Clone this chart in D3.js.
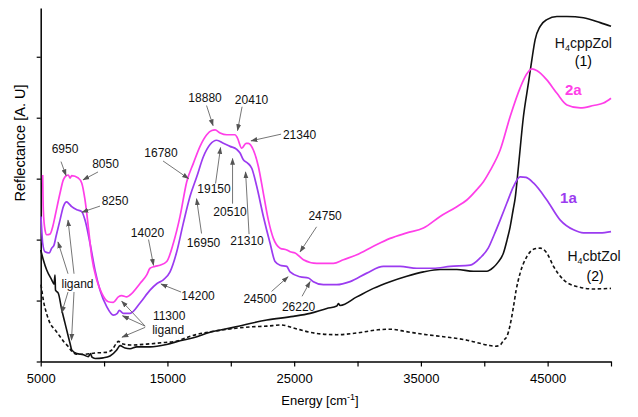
<!DOCTYPE html>
<html><head><meta charset="utf-8">
<script src="https://cdn.jsdelivr.net/npm/d3@7"></script>
<style>
body{margin:0;background:#fff}
svg{display:block}
text{font-family:"Liberation Sans",Arial,Helvetica,sans-serif}
</style>
</head><body>
<svg id="chart" width="638" height="417"></svg>
<script>
// ---------- data (energy cm-1, reflectance A.U.) ----------
const series2a = [[5158,3.06],[5205,2.49],[5339,2.16],[5474,2.08],[5734,2.09],[5947,2.21],[6129,2.38],[6523,2.76],[6784,2.98],[6918,3.03],[7178,3.06],[7313,3.01],[7447,3.05],[7968,3.01],[8236,2.93],[8497,2.65],[8757,2.21],[9025,1.72],[9420,1.34],[9815,1.12],[10336,0.98],[10730,0.97],[11125,1.06],[11393,1.08],[11788,1.06],[12048,1.09],[12838,1.28],[13367,1.42],[13627,1.53],[14020,1.56],[14416,1.58],[14945,1.64],[15466,1.94],[15995,2.38],[16524,2.95],[17044,3.25],[17573,3.53],[18102,3.72],[18497,3.79],[18757,3.80],[19152,3.75],[19681,3.72],[20336,3.72],[20517,3.67],[20865,3.50],[21204,3.58],[21385,3.58],[21780,3.47],[22175,3.20],[22570,2.76],[22965,2.32],[23359,2.02],[23888,1.86],[24417,1.83],[24677,1.80],[25072,1.78],[25727,1.67],[26785,1.61],[28095,1.61],[28884,1.67],[29941,1.75],[31252,1.89],[32570,2.02],[33888,2.11],[35198,2.19],[36516,2.38],[37834,2.54],[38624,2.65],[39413,2.82],[39934,2.95],[40480,3.14],[41254,3.47],[42043,4.02],[42831,4.49],[43359,4.72],[43754,4.80],[44170,4.77],[44938,4.62],[45734,4.40],[46524,4.21],[47573,4.16],[48617,4.20],[49406,4.24],[50000,4.32]];

const series1a = [[5024,2.38],[5158,1.94],[5339,1.80],[5679,1.78],[5868,1.86],[6050,1.91],[6208,2.05],[6523,2.32],[6784,2.54],[7052,2.62],[7178,2.60],[7447,2.54],[7841,2.49],[8236,2.46],[8497,2.32],[8891,1.94],[9286,1.50],[9681,1.17],[10209,0.90],[10730,0.76],[11046,0.79],[11204,0.84],[11520,0.79],[12048,0.79],[12838,0.96],[13627,1.17],[14180,1.28],[14677,1.34],[15206,1.47],[15734,1.80],[16255,2.27],[16784,2.71],[17313,3.03],[17834,3.36],[18363,3.56],[18891,3.63],[19412,3.58],[19941,3.53],[20470,3.48],[20730,3.42],[20991,3.31],[21306,3.26],[21654,3.17],[22049,2.87],[22570,2.38],[23099,1.94],[23493,1.64],[23888,1.58],[24417,1.56],[24677,1.47],[25466,1.39],[26121,1.37],[26516,1.31],[27305,1.26],[28363,1.26],[29413,1.31],[30731,1.45],[32041,1.56],[33359,1.56],[34677,1.53],[35988,1.53],[37305,1.56],[38887,1.58],[39676,1.70],[40310,1.86],[40780,2.08],[41254,2.32],[41783,2.60],[42304,2.87],[42831,3.03],[43300,3.02],[43880,2.93],[44938,2.65],[45995,2.32],[47044,2.16],[47828,2.11],[49145,2.11],[50000,2.13]];

const seriesCpp = [[5000,1.83],[5205,1.67],[5474,1.50],[5868,1.34],[6050,1.27],[6129,1.42],[6168,1.17],[6389,1.12],[6658,0.85],[6918,0.63],[7178,0.41],[7313,0.30],[7447,0.19],[7841,0.13],[8362,0.11],[8757,0.08],[8930,0.13],[9050,0.07],[9286,0.05],[9941,0.06],[10470,0.09],[10999,0.19],[11259,0.26],[11654,0.22],[12048,0.21],[12577,0.24],[13627,0.24],[14945,0.28],[15995,0.34],[17044,0.39],[18363,0.48],[20202,0.56],[22838,0.68],[24937,0.74],[26256,0.79],[27574,0.87],[28363,0.91],[28489,0.95],[28624,0.92],[29941,1.06],[31252,1.20],[32570,1.31],[33888,1.40],[35198,1.47],[36516,1.51],[37834,1.51],[39144,1.48],[40204,1.48],[40700,1.54],[41096,1.63],[41514,1.78],[41806,2.00],[42043,2.21],[42280,2.49],[42439,2.68],[42697,3.20],[43091,4.02],[43486,4.57],[43754,4.95],[44015,5.28],[44410,5.50],[44938,5.61],[45734,5.66],[46524,5.66],[47828,5.64],[49145,5.56],[50000,5.50]];

const seriesCbt = [[5024,1.26],[5205,1.01],[5474,0.78],[5734,0.63],[6129,0.52],[6523,0.41],[6839,0.32],[7155,0.25],[7447,0.17],[7841,0.12],[8497,0.12],[9286,0.14],[10178,0.15],[10628,0.19],[10944,0.29],[11141,0.33],[11338,0.30],[11654,0.28],[12096,0.27],[13627,0.29],[14653,0.31],[15616,0.33],[16895,0.42],[19452,0.52],[21694,0.57],[22838,0.58],[24022,0.60],[24937,0.55],[26785,0.46],[28363,0.44],[30013,0.47],[31615,0.52],[32570,0.53],[33849,0.49],[35451,0.44],[37054,0.40],[38649,0.35],[40251,0.27],[40890,0.25],[41254,0.27],[41530,0.35],[41783,0.41],[42012,0.57],[42304,0.90],[42515,1.17],[42831,1.45],[43359,1.72],[43880,1.84],[44410,1.86],[44938,1.78],[45466,1.56],[46255,1.34],[47313,1.23],[48617,1.19],[50000,1.20]];

const xTicks = [5000,10000,15000,20000,25000,30000,35000,40000,45000,50000];
const xTickLabels = [5000,15000,25000,35000,45000];
const yTicks = [0,1,2,3,4,5];

// annotations: label, text anchor (E, R), arrow(s) [E0,R0,E1,R1]
const peakLabels = [
  {t:"6950",  x:6918,  y:3.42, arrows:[[6602,3.28,6997,3.05]]},
  {t:"8050",  x:10115, y:3.18, arrows:[[9523,3.11,8339,2.98]]},
  {t:"8250",  x:10864, y:2.57, arrows:[[9680,2.55,8260,2.45]]},
  {t:"ligand",x:7905,  y:1.21, arrows:[[7155,1.44,6365,1.96],[7628,1.44,7155,2.32],[7155,1.14,6658,0.80],[7628,1.14,7431,0.35]]},
  {t:"11300", x:15136, y:0.68, arrows:[[13242,0.58,11393,0.99],[13242,0.58,11456,0.75],[13242,0.56,11417,0.40]]},
  {t:"ligand",x:15057, y:0.45, arrows:[]},
  {t:"14020", x:13430, y:2.04, arrows:[[13509,2.00,13903,1.58]]},
  {t:"14200", x:17416, y:1.01, arrows:[[16074,1.14,14495,1.27]]},
  {t:"16780", x:14495, y:3.36, arrows:[[14653,3.29,16666,3.00]]},
  {t:"18880", x:17968, y:4.26, arrows:[[18087,4.20,18600,3.87]]},
  {t:"20410", x:21638, y:4.23, arrows:[[20889,4.18,20533,3.79]]},
  {t:"21340", x:25427, y:3.65, arrows:[[23967,3.73,21599,3.62]]},
  {t:"19150", x:18678, y:2.77, arrows:[[18797,2.92,19192,3.51]]},
  {t:"20510", x:19941, y:2.39, arrows:[[20139,2.59,20139,3.33]]},
  {t:"21310", x:21283, y:1.91, arrows:[[21441,2.09,21165,3.11]]},
  {t:"16950", x:17850, y:1.88, arrows:[[17692,2.10,17297,2.67]]},
  {t:"24750", x:27440, y:2.32, arrows:[[26769,2.21,25466,1.80]]},
  {t:"24500", x:22309, y:0.96, arrows:[[23217,1.15,24519,1.39]]},
  {t:"26220", x:25348, y:0.83, arrows:[[25624,1.07,26256,1.31]]}
];

// ---------- chart ----------
const svg = d3.select("#chart");
const x = d3.scaleLinear().domain([5000,50000]).range([40.7,611]);
const y = d3.scaleLinear().domain([0,5.8]).range([361.5,8]);

const line = d3.line().x(d=>x(d[0])).y(d=>y(d[1])).curve(d3.curveMonotoneX);

const defs = svg.append("defs");
defs.append("marker").attr("id","arr").attr("viewBox","0 0 10 10")
  .attr("refX",9).attr("refY",5).attr("markerWidth",7).attr("markerHeight",7)
  .attr("markerUnits","userSpaceOnUse").attr("orient","auto")
  .append("path").attr("d","M0,1.5L10,5L0,8.5Z").attr("fill","#555");

// axes
const xAxis = d3.axisBottom(x).tickValues(xTicks).tickSize(5).tickSizeOuter(0)
  .tickFormat(d => xTickLabels.includes(d) ? String(d) : "");
const gx = svg.append("g").attr("transform",`translate(0,${y(0)})`).call(xAxis);
gx.selectAll("text").attr("font-size",13).attr("fill","#000").attr("dy","1.0em")
  .style("font-family","'Liberation Sans',Arial,sans-serif");
gx.select(".domain").attr("stroke","#000").attr("stroke-width",1.5);
gx.selectAll(".tick line").attr("stroke","#000").attr("stroke-width",1.2);

const yAxis = d3.axisLeft(y).tickValues(yTicks).tickSize(4).tickSizeOuter(0).tickFormat("");
const gy = svg.append("g").attr("transform",`translate(${x(5000)},0)`).call(yAxis);
gy.select(".domain").attr("stroke","#000").attr("stroke-width",1.5);
gy.selectAll(".tick line").attr("stroke","#000").attr("stroke-width",1.2);

// axis titles
svg.append("text").attr("x",320).attr("y",405).attr("text-anchor","middle")
  .attr("font-size",13).html('Energy [cm<tspan baseline-shift="super" font-size="9">-1</tspan>]');
svg.append("text").attr("transform","translate(25,143) rotate(-90)").attr("text-anchor","middle")
  .attr("font-size",14.5).text("Reflectance [A. U]");

// series
svg.append("path").datum(seriesCbt).attr("d",line).attr("fill","none")
  .attr("stroke","#111").attr("stroke-width",1.6).attr("stroke-dasharray","3.5,2.5");
svg.append("path").datum(seriesCpp).attr("d",line).attr("fill","none")
  .attr("stroke","#111").attr("stroke-width",1.6);
svg.append("path").datum(series1a).attr("d",line).attr("fill","none")
  .attr("stroke","#9b3bf0").attr("stroke-width",1.7);
svg.append("path").datum(series2a).attr("d",line).attr("fill","none")
  .attr("stroke","#ff3ee8").attr("stroke-width",1.7);

// annotations
const ann = svg.append("g");
peakLabels.forEach(p=>{
  p.arrows.forEach(a=>{
    ann.append("line").attr("x1",x(a[0])).attr("y1",y(a[1])).attr("x2",x(a[2])).attr("y2",y(a[3]))
      .attr("stroke","#666").attr("stroke-width",0.9).attr("marker-end","url(#arr)");
  });
  ann.append("text").attr("x",x(p.x)).attr("y",y(p.y)).attr("text-anchor","middle")
    .attr("font-size",12).attr("fill","#111").text(p.t);
});

// series labels
function chem(txt, sub, rest, ex, ry){
  const t = svg.append("text").attr("x",x(ex)).attr("y",y(ry)).attr("text-anchor","middle").attr("font-size",14).attr("fill","#111");
  t.append("tspan").text(txt);
  t.append("tspan").attr("font-size",9).attr("dy",3).text(sub);
  t.append("tspan").attr("dy",-3).text(rest);
}
chem("H","4","cppZol",47821,5.15);
svg.append("text").attr("x",x(47821)).attr("y",y(4.85)).attr("text-anchor","middle").attr("font-size",14).text("(1)");
chem("H","4","cbtZol",48664,1.65);
svg.append("text").attr("x",x(48743)).attr("y",y(1.32)).attr("text-anchor","middle").attr("font-size",14).text("(2)");
svg.append("text").attr("x",x(47032)).attr("y",y(4.38)).attr("text-anchor","middle").attr("font-size",15)
  .attr("font-weight","bold").attr("fill","#ff3ee8").text("2a");
svg.append("text").attr("x",x(46638)).attr("y",y(2.60)).attr("text-anchor","middle").attr("font-size",15)
  .attr("font-weight","bold").attr("fill","#9b3bf0").text("1a");
</script>
</body></html>
